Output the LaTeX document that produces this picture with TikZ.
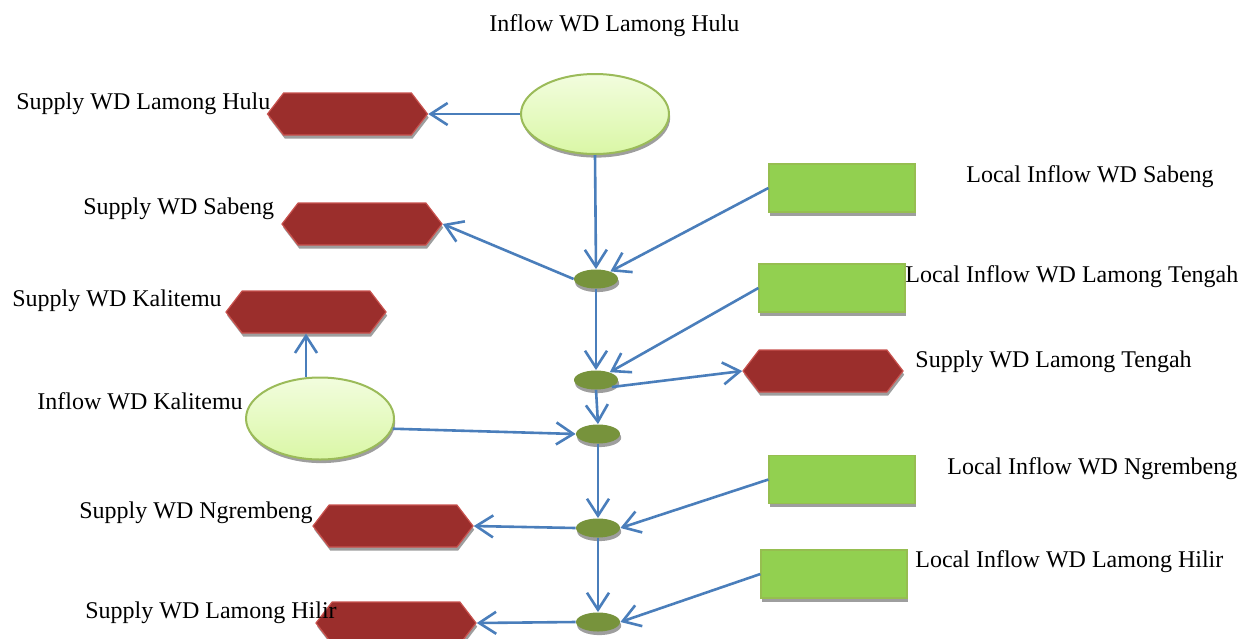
\documentclass[tikz,border=0pt]{standalone}
\usepackage{fontspec}
\setmainfont{Liberation Serif}
\usetikzlibrary{shapes.geometric, shapes.symbols, shadows, arrows.meta}
\definecolor{flowblue}{RGB}{74,126,187}
\definecolor{supfill}{RGB}{155,46,44}
\definecolor{supline}{RGB}{200,82,78}
\definecolor{inlight}{RGB}{242,253,222}
\definecolor{indark}{RGB}{218,247,166}
\definecolor{inline}{RGB}{155,187,89}
\definecolor{locfill}{RGB}{146,208,80}
\definecolor{locline}{RGB}{150,190,80}
\definecolor{jfill}{RGB}{119,147,60}
\tikzset{
    x=0.5pt, y=-0.5pt, % one unit per pixel, y downwards
    shade/.style={drop shadow={shadow xshift=0.6pt, shadow yshift=-1.8pt,
        fill=black!38, opacity=1}},
    supply/.style={signal, signal to=west and east, signal pointer angle=105,
        minimum width=80pt, minimum height=21pt, inner sep=0pt,
        fill=supfill, draw=supline, line width=0.6pt, shade},
    inflow/.style={ellipse, minimum width=74pt, minimum height=40pt,
        top color=inlight, bottom color=indark, draw=inline,
        line width=1pt, shade},
    local/.style={rectangle, minimum width=73pt, minimum height=24pt,
        fill=locfill, draw=locline, line width=0.6pt, shade},
    junction/.style={ellipse, minimum width=22pt, minimum height=9.5pt,
        inner sep=0pt, fill=jfill, shade},
    flow/.style={draw=flowblue, line width=1.3pt,
        -{Straight Barb[length=8.5pt, width=11pt]}},
    lbl/.style={anchor=west, inner sep=0pt, font=\fontsize{12}{14}\selectfont},
}
\begin{document}
\begin{tikzpicture}
    \useasboundingbox (0, 0) rectangle (1247, 638);

    % Inflows at the head of each reach
    \node[inflow] (inHulu) at (595, 114) {};
    \node[inflow, minimum height=41pt] (inKali) at (320, 418.5) {};

    % Local inflows
    \node[local] (locSabeng) at (842, 188) {};
    \node[local] (locTengah) at (832, 288) {};
    \node[local] (locNgrembeng) at (842, 479.5) {};
    \node[local] (locHilir) at (834, 574) {};

    % Supply demands
    \node[supply] (supHulu) at (347.5, 114) {};
    \node[supply] (supSabeng) at (362, 224) {};
    \node[supply] (supKali) at (306, 312) {};
    \node[supply] (supTengah) at (823, 371) {};
    \node[supply] (supNgrembeng) at (393, 526) {};
    \node[supply] (supHilir) at (396, 623) {};

    % Junctions along the main river
    \node[junction] (j1) at (596, 279) {};
    \node[junction] (j2) at (596, 380) {};
    \node[junction] (j3) at (598, 434) {};
    \node[junction] (j4) at (598, 528) {};
    \node[junction] (j5) at (598, 622) {};

    \draw[flow] (inHulu.west) -- (supHulu.east);
    \draw[flow] (inHulu.south) -- (j1.north);
    \foreach \a/\b in {j1/j2, j2/j3, j3/j4, j4/j5}
        \draw[flow] (\a.south) -- (\b.north); % main stem

    \draw[flow] (locSabeng.west) -- (j1);
    \draw[flow] (locTengah.west) -- (j2);
    \draw[flow] (locNgrembeng.west) -- (j4.east);
    \draw[flow] (locHilir.west) -- (j5.east);

    \draw[flow] (j1.west) -- (supSabeng.east);
    \draw[flow] (j2.south east) -- (supTengah.west);
    \draw[flow] (j4.west) -- (supNgrembeng.east);
    \draw[flow] (j5.west) -- (supHilir.east);

    \draw[flow] (supKali.south |- inKali.north) -- (supKali.south);
    \draw[flow] (inKali.-8) -- (j3.west);

    % Labels
    \foreach \x/\y/\n/\t in {
        489/26/tInHulu/Inflow WD Lamong Hulu,
        16/104/tSupHulu/Supply WD Lamong Hulu,
        83/209/tSupSabeng/Supply WD Sabeng,
        12/301/tSupKali/Supply WD Kalitemu,
        37/401/tInKali/Inflow WD Kalitemu,
        79/513/tSupNgrembeng/Supply WD Ngrembeng,
        85/613/tSupHilir/Supply WD Lamong Hilir,
        966/177/tLocSabeng/Local Inflow WD Sabeng,
        905/277/tLocTengah/Local Inflow WD Lamong Tengah,
        915/362/tSupTengah/Supply WD Lamong Tengah,
        947/469/tLocNgrembeng/Local Inflow WD Ngrembeng,
        915/562/tLocHilir/Local Inflow WD Lamong Hilir}
        \node[lbl] (\n) at (\x, \y) {\t};
\end{tikzpicture}
\end{document}
